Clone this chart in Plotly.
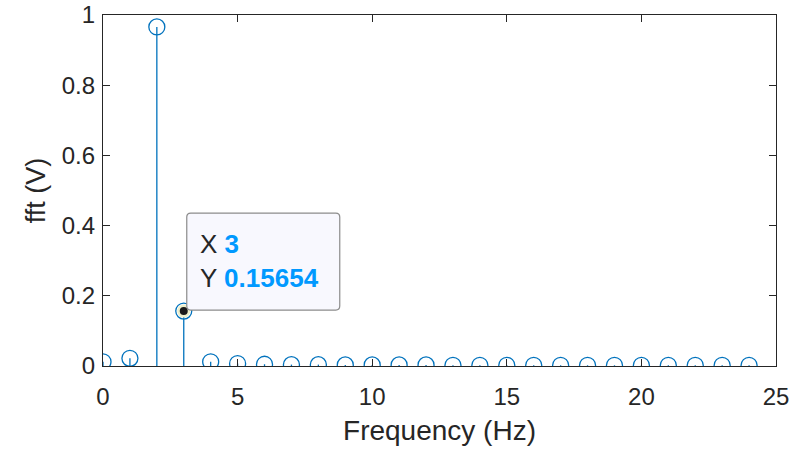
import plotly.graph_objects as go

freq = list(range(25))
amp = [0.012, 0.022, 0.966, 0.15654, 0.012, 0.007, 0.005, 0.004, 0.004, 0.003,
       0.003, 0.003, 0.003, 0.002, 0.002, 0.002, 0.002, 0.002, 0.002, 0.002,
       0.002, 0.002, 0.002, 0.002, 0.002]
tip_x = 3
tip_y = 0.15654
x_ticks = [0, 5, 10, 15, 20, 25]
y_ticks = [0, 0.2, 0.4, 0.6, 0.8, 1]

BLUE = "#0072BD"
DARK = "#262626"
FONT = "Liberation Sans, Arial, sans-serif"

stem_x, stem_y = [], []
for xv, yv in zip(freq, amp):
    stem_x += [xv, xv, None]
    stem_y += [0, yv, None]

fig = go.Figure()
fig.add_trace(go.Scatter(x=stem_x, y=stem_y, mode="lines",
                         line=dict(color=BLUE, width=1.3), hoverinfo="skip"))
fig.add_trace(go.Scatter(x=freq, y=amp, mode="markers",
                         marker=dict(symbol="circle-open", size=16, color=BLUE,
                                     line=dict(width=1.3, color=BLUE))))
fig.add_trace(go.Scatter(x=[tip_x], y=[tip_y], mode="markers",
                         marker=dict(symbol="circle", size=13, color="#EEF0CC",
                                     line=dict(width=0))))
fig.add_trace(go.Scatter(x=[tip_x], y=[tip_y], mode="markers",
                         marker=dict(symbol="circle", size=8, color="#1a1a1a",
                                     line=dict(width=0))))

# datatip box (pixel-sized, anchored to the data point)
r = 4
w, h = 153, 97
x0, y0 = 3, 1
path = (f"M {x0+r},{y0} L {x0+w-r},{y0} Q {x0+w},{y0} {x0+w},{y0+r} "
        f"L {x0+w},{y0+h-r} Q {x0+w},{y0+h} {x0+w-r},{y0+h} "
        f"L {x0+r},{y0+h} Q {x0},{y0+h} {x0},{y0+h-r} "
        f"L {x0},{y0+r} Q {x0},{y0} {x0+r},{y0} Z")
fig.add_shape(type="path", xref="x", yref="y", xsizemode="pixel", ysizemode="pixel",
              xanchor=tip_x, yanchor=tip_y, path=path,
              fillcolor="#F8F8FE", line=dict(color="#8C8C8C", width=1.2), layer="above")

val_style = "color:#0099FF"
fig.add_annotation(x=tip_x, y=tip_y, xref="x", yref="y", showarrow=False,
                   xanchor="left", yanchor="bottom", xshift=14, yshift=16,
                   align="left",
                   text=(f"X <span style='{val_style}'><b>{tip_x}</b></span><br>"
                         f"Y <span style='{val_style}'><b>{tip_y}</b></span>"),
                   font=dict(family=FONT, size=26, color=DARK))

axis_common = dict(showline=True, linecolor=DARK, linewidth=1.3, mirror="ticks",
                   ticks="inside", ticklen=7, tickcolor=DARK, tickwidth=1.2,
                   showgrid=False, zeroline=False, automargin=False,
                   tickfont=dict(family=FONT, size=24, color=DARK))

fig.update_layout(
    width=791, height=449,
    margin=dict(l=103, r=15, t=15, b=83),
    paper_bgcolor="white", plot_bgcolor="white",
    showlegend=False,
    xaxis=dict(range=[0, 25], tickvals=x_ticks, ticktext=[str(v) for v in x_ticks],
               ticklabelstandoff=9,
               title=dict(text="Frequency (Hz)", font=dict(family=FONT, size=28, color=DARK),
                          standoff=11),
               **axis_common),
    yaxis=dict(range=[0, 1], tickvals=y_ticks, ticktext=[f"{v:g}" for v in y_ticks],
               ticklabelstandoff=2,
               title=dict(text="fft (V)", font=dict(family=FONT, size=27, color=DARK),
                          standoff=8),
               **axis_common),
)

fig.write_html(
    "out.html",
    config={"displayModeBar": False},
    post_script="document.body.style.margin='0';document.body.style.overflow='hidden';",
)
